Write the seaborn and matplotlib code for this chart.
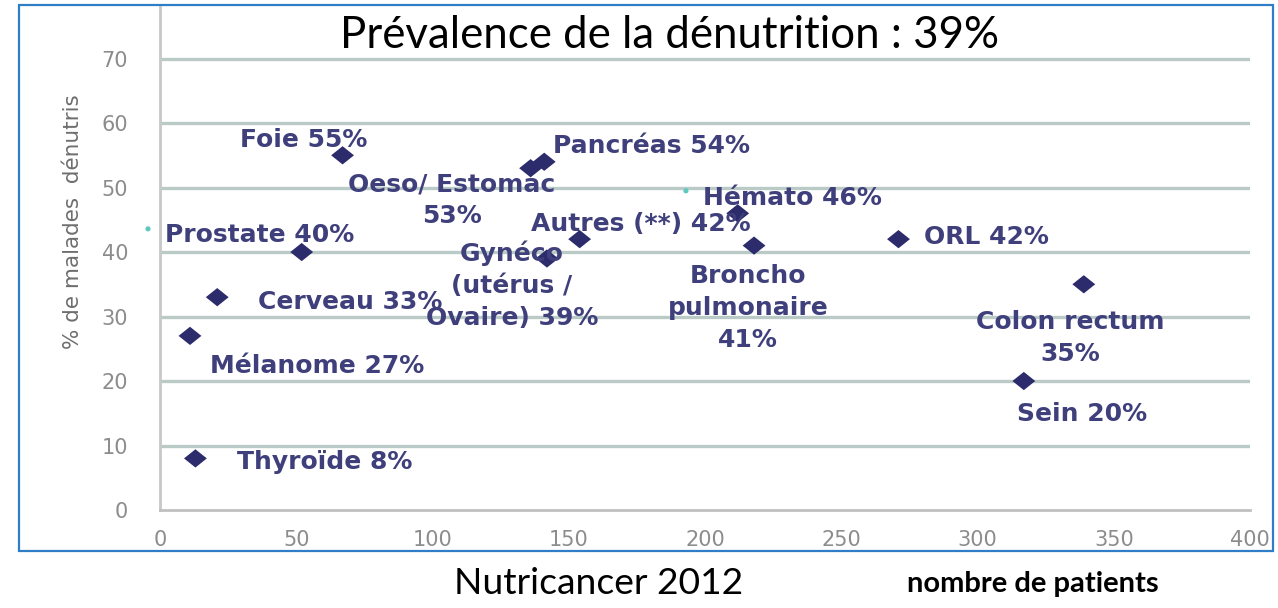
import matplotlib
matplotlib.use("Agg")
import matplotlib.pyplot as plt
import seaborn as sns
import pandas as pd
from matplotlib.patches import Rectangle
from matplotlib.path import Path

# ---------------- data ----------------
categories = ["Thyroïde", "Mélanome", "Cerveau", "Prostate", "Foie",
              "Oeso/ Estomac", "Pancréas", "Gynéco", "Autres (**)", "Hémato",
              "Broncho pulmonaire", "ORL", "Colon rectum", "Sein"]
n_patients = [13, 11, 21, 52, 67, 136, 141, 142, 154, 212, 218, 271, 339, 317]
pct_denutris = [8, 27, 33, 40, 55, 53, 54, 39, 42, 46, 41, 42, 35, 20]
point_labels = ["Thyroïde 8%", "Mélanome 27%", "Cerveau 33%", "Prostate 40%",
                "Foie 55%", "Oeso/ Estomac\n53%", "Pancréas 54%",
                "Gynéco\n(utérus /\nOvaire) 39%", "Autres (**) 42%",
                "Hémato 46%", "Broncho\npulmonaire\n41%", "ORL 42%",
                "Colon rectum\n35%", "Sein 20%"]
# small teal dots visible in the picture
extra_x = [-4.4, 193]
extra_y = [43.6, 49.5]

x_ticks = [0, 50, 100, 150, 200, 250, 300, 350, 400]
y_ticks = [0, 10, 20, 30, 40, 50, 60, 70]

title = "Prévalence de la dénutrition : 39%"
source = "Nutricancer 2012"
x_label = "nombre de patients"
y_label = "% de malades  dénutris"

# label placement (offset in pixels from the point, alignment)
label_offsets = [(42, -4, "left"), (20, -30, "left"), (41, -5, "left"),
                 (-137, 17, "left"), (-103, 15, "left"), (-79, -32, "center"),
                 (9, 16, "left"), (-35, -27, "center"), (-49, 15, "left"),
                 (-35, 15, "left"), (-6, -62, "center"), (26, 2, "left"),
                 (-14, -54, "center"), (-7, -33, "left")]

df = pd.DataFrame({"cat": categories, "n": n_patients, "pct": pct_denutris})
df_extra = pd.DataFrame({"n": extra_x, "pct": extra_y})

sns.set_theme(style="white")
plt.rcParams["font.family"] = ["DejaVu Sans"]

W, H = 1278, 608
fig = plt.figure(figsize=(W / 100, H / 100), dpi=100)
ax = fig.add_axes([160 / W, 1 - 510 / H, (1250 - 160) / W, (510 - 7) / H])

ax.set_xlim(0, 400)
ax.set_ylim(0, 78)

grid_col = "#b9cac7"
for yv in y_ticks[1:]:
    ax.axhline(yv, color=grid_col, lw=2.4, zorder=1)

# horizontally stretched diamond
diamond = Path([(-1.25, 0), (0, 1), (1.25, 0), (0, -1), (-1.25, 0)],
               [Path.MOVETO, Path.LINETO, Path.LINETO, Path.LINETO, Path.CLOSEPOLY])

sns.scatterplot(data=df_extra, x="n", y="pct", ax=ax, marker="o", s=14,
                color="#5fc9c0", edgecolor="none", zorder=3, clip_on=False)
sns.scatterplot(data=df, x="n", y="pct", ax=ax, marker=diamond, s=270,
                color="#2c2b6c", edgecolor="none", zorder=4, clip_on=False)

lab_col = "#3f3f7c"
for xv, yv, txt, (dx, dy, ha) in zip(n_patients, pct_denutris, point_labels, label_offsets):
    ax.annotate(txt, (xv, yv), xytext=(dx, dy), textcoords="offset pixels",
                ha=ha, va="center", fontsize=18, fontweight="bold",
                color=lab_col, linespacing=1.42, zorder=5)

ax.set_xticks(x_ticks)
ax.set_yticks(y_ticks)
ax.set_xticklabels([str(v) for v in x_ticks])
ax.set_yticklabels([str(v) for v in y_ticks])
ax.tick_params(axis="x", colors="#c0c0c0", direction="inout", length=7, width=1.5,
               labelcolor="#8c8c8c", labelsize=15, pad=11)
ax.tick_params(axis="y", colors=grid_col, direction="out", length=5, width=2.4,
               labelcolor="#8c8c8c", labelsize=15, pad=18)
ax.set_xlabel("")
ax.set_ylabel(y_label, fontsize=15.5, color="#6e6e6e")
ax.yaxis.set_label_coords((83 - 160) / 1090, (510 - 222) / 503)

for s in ["top", "right"]:
    ax.spines[s].set_visible(False)
ax.spines["left"].set_color("#c8c8c8")
ax.spines["left"].set_linewidth(2)
ax.spines["bottom"].set_color("#c0c0c0")
ax.spines["bottom"].set_linewidth(2)
ax.patch.set_alpha(0)

# blue frame
fig.patches.append(Rectangle((19 / W, 1 - 551 / H), (1273 - 19) / W, (551 - 5) / H,
                             transform=fig.transFigure, fill=False,
                             edgecolor="#2f7dc6", lw=1.6, zorder=10))

fig.text(670 / W, 1 - 36 / H, title, ha="center", va="center",
         fontsize=31.5, color="black", family=["Lato", "DejaVu Sans"])
fig.text(599 / W, 1 - 583 / H, source, ha="center", va="center",
         fontsize=26.8, color="black", family=["Lato", "DejaVu Sans"])
fig.text(1033 / W, 1 - 584 / H, x_label, ha="center", va="center",
         fontsize=21, fontweight="bold", color="black", family=["Lato", "DejaVu Sans"])

fig.savefig("out.png", dpi=100)
